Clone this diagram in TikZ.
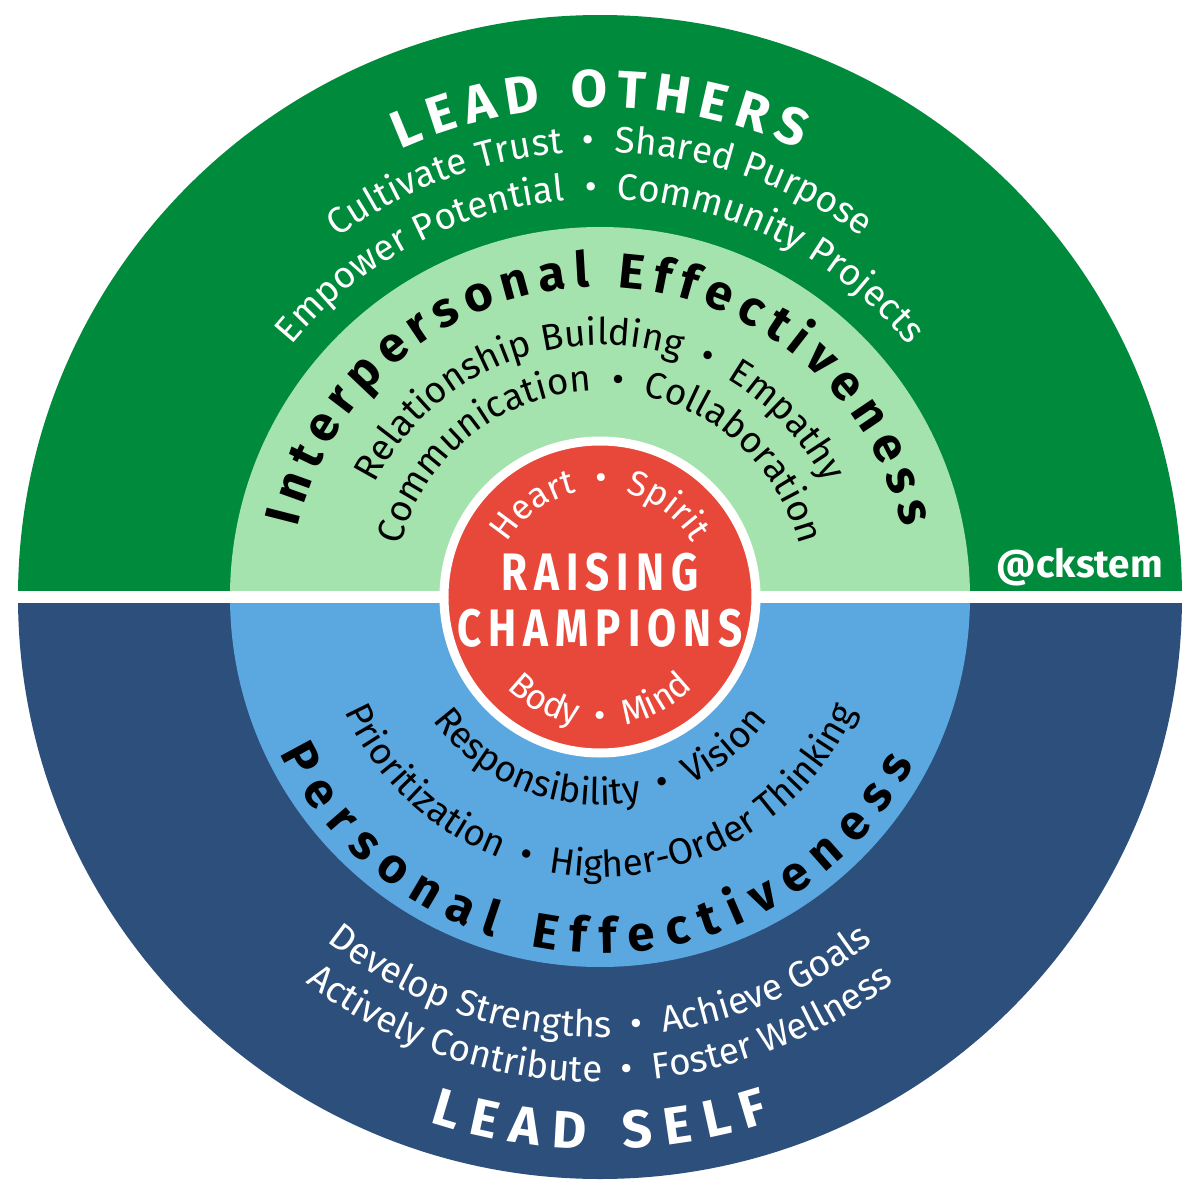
\documentclass[tikz,border=0pt]{standalone}
\usepackage{fontspec}
\setmainfont{Fira Sans}
\usetikzlibrary{decorations.text}
\definecolor{othersgreen}{RGB}{0,138,60}
\definecolor{interlight}{RGB}{165,227,174}
\definecolor{selfnavy}{RGB}{45,79,124}
\definecolor{personalblue}{RGB}{91,168,224}
\definecolor{corered}{RGB}{232,72,58}
\tikzset{arctext/.style={ % centred text along an arc
            decorate,
            decoration={text along path, text color=#1, text align=center}},
        titlearc/.style={ % spaced-out title along an arc
            decorate,
            decoration={text along path, text color=#1, text align={fit to path}}}
        }
\newcommand{\plainfont}{\fontsize{10.5}{12}\selectfont}
\newcommand{\titlefont}{\bfseries\fontsize{14}{16}\selectfont}
\begin{document}
\begin{tikzpicture}
    \useasboundingbox[fill=white] (-6,-6.03) rectangle (6,5.97);

    % halves and rings
    \fill[othersgreen] (5.82,0) arc[start angle=0, end angle=180, radius=5.82] -- cycle;
    \fill[selfnavy] (5.82,0) arc[start angle=0, end angle=-180, radius=5.82] -- cycle;
    \fill[interlight] (3.7,0) arc[start angle=0, end angle=180, radius=3.7] -- cycle;
    \fill[personalblue] (3.7,0) arc[start angle=0, end angle=-180, radius=3.7] -- cycle;
    \fill[white] (-6,-0.06) rectangle (6,0.06);
    \fill[corered, draw=white, line width=0.09cm] (0,0) circle (1.56);

    % lead others
    \path[titlearc=white, decoration={text={|\bfseries\fontsize{15}{17}\selectfont|LEAD OTHERS}}]
        (114:4.9) arc[start angle=114, end angle=66, radius=4.9];
    \path[arctext=white, decoration={text={|\plainfont|Cultivate Trust \ • \ Shared Purpose}}]
        (150:4.45) arc[start angle=150, end angle=30, radius=4.45];
    \path[arctext=white, decoration={text={|\plainfont|Empower Potential \ • \ Community Projects}}]
        (160:3.98) arc[start angle=160, end angle=20, radius=3.98];

    % interpersonal effectiveness
    \path[titlearc=black, decoration={text={|\titlefont|Interpersonal Effectiveness}}]
        (167:3.1) arc[start angle=167, end angle=13, radius=3.1];
    \path[arctext=black, decoration={text={|\plainfont|Relationship Building \ • \ Empathy}}]
        (175:2.52) arc[start angle=175, end angle=5, radius=2.52];
    \path[arctext=black, decoration={text={|\plainfont|Communication \ • \ Collaboration}}]
        (178:2.06) arc[start angle=178, end angle=2, radius=2.06];

    % core
    \path[arctext=white, decoration={text={|\fontsize{10}{12}\selectfont|Heart \ • \ Spirit}}]
        (175:1.07) arc[start angle=175, end angle=5, radius=1.07];
    \path[arctext=white, decoration={text={|\fontsize{10}{12}\selectfont|Body \ • \ Mind}}]
        (190:1.3) arc[start angle=190, end angle=350, radius=1.3];
    \node[text=white, font=\bfseries\fontsize{15}{17}\selectfont, align=center,
          xscale=0.8, transform shape, inner sep=0pt] (core) at (0,-0.03)
        {R\,A\,I\,S\,I\,N\,G\\[-1pt]C\,H\,A\,M\,P\,I\,O\,N\,S};

    % personal effectiveness
    \path[arctext=black, decoration={text={|\plainfont|Responsibility \ • \ Vision}}]
        (185:2.08) arc[start angle=185, end angle=355, radius=2.08];
    \path[arctext=black, decoration={text={|\plainfont|Prioritization \ • \ Higher-Order Thinking}}]
        (185:2.8) arc[start angle=185, end angle=355, radius=2.8];
    \path[titlearc=black, decoration={text={|\titlefont|Personal Effectiveness}}]
        (206:3.56) arc[start angle=206, end angle=332, radius=3.56];

    % lead self
    \path[arctext=white, decoration={text={|\plainfont|Develop Strengths \ • \ Achieve Goals}}]
        (200:4.4) arc[start angle=200, end angle=340, radius=4.4];
    \path[arctext=white, decoration={text={|\plainfont|Actively Contribute \ • \ Foster Wellness}}]
        (200:4.85) arc[start angle=200, end angle=340, radius=4.85];
    \path[titlearc=white, decoration={text={|\bfseries\fontsize{15}{17}\selectfont|LEAD SELF}}]
        (252:5.52) arc[start angle=252, end angle=288, radius=5.52];

    \node[text=white, font=\bfseries\fontsize{11}{13}\selectfont] (tag) at (4.8,0.3) {@ckstem};
\end{tikzpicture}
\end{document}
